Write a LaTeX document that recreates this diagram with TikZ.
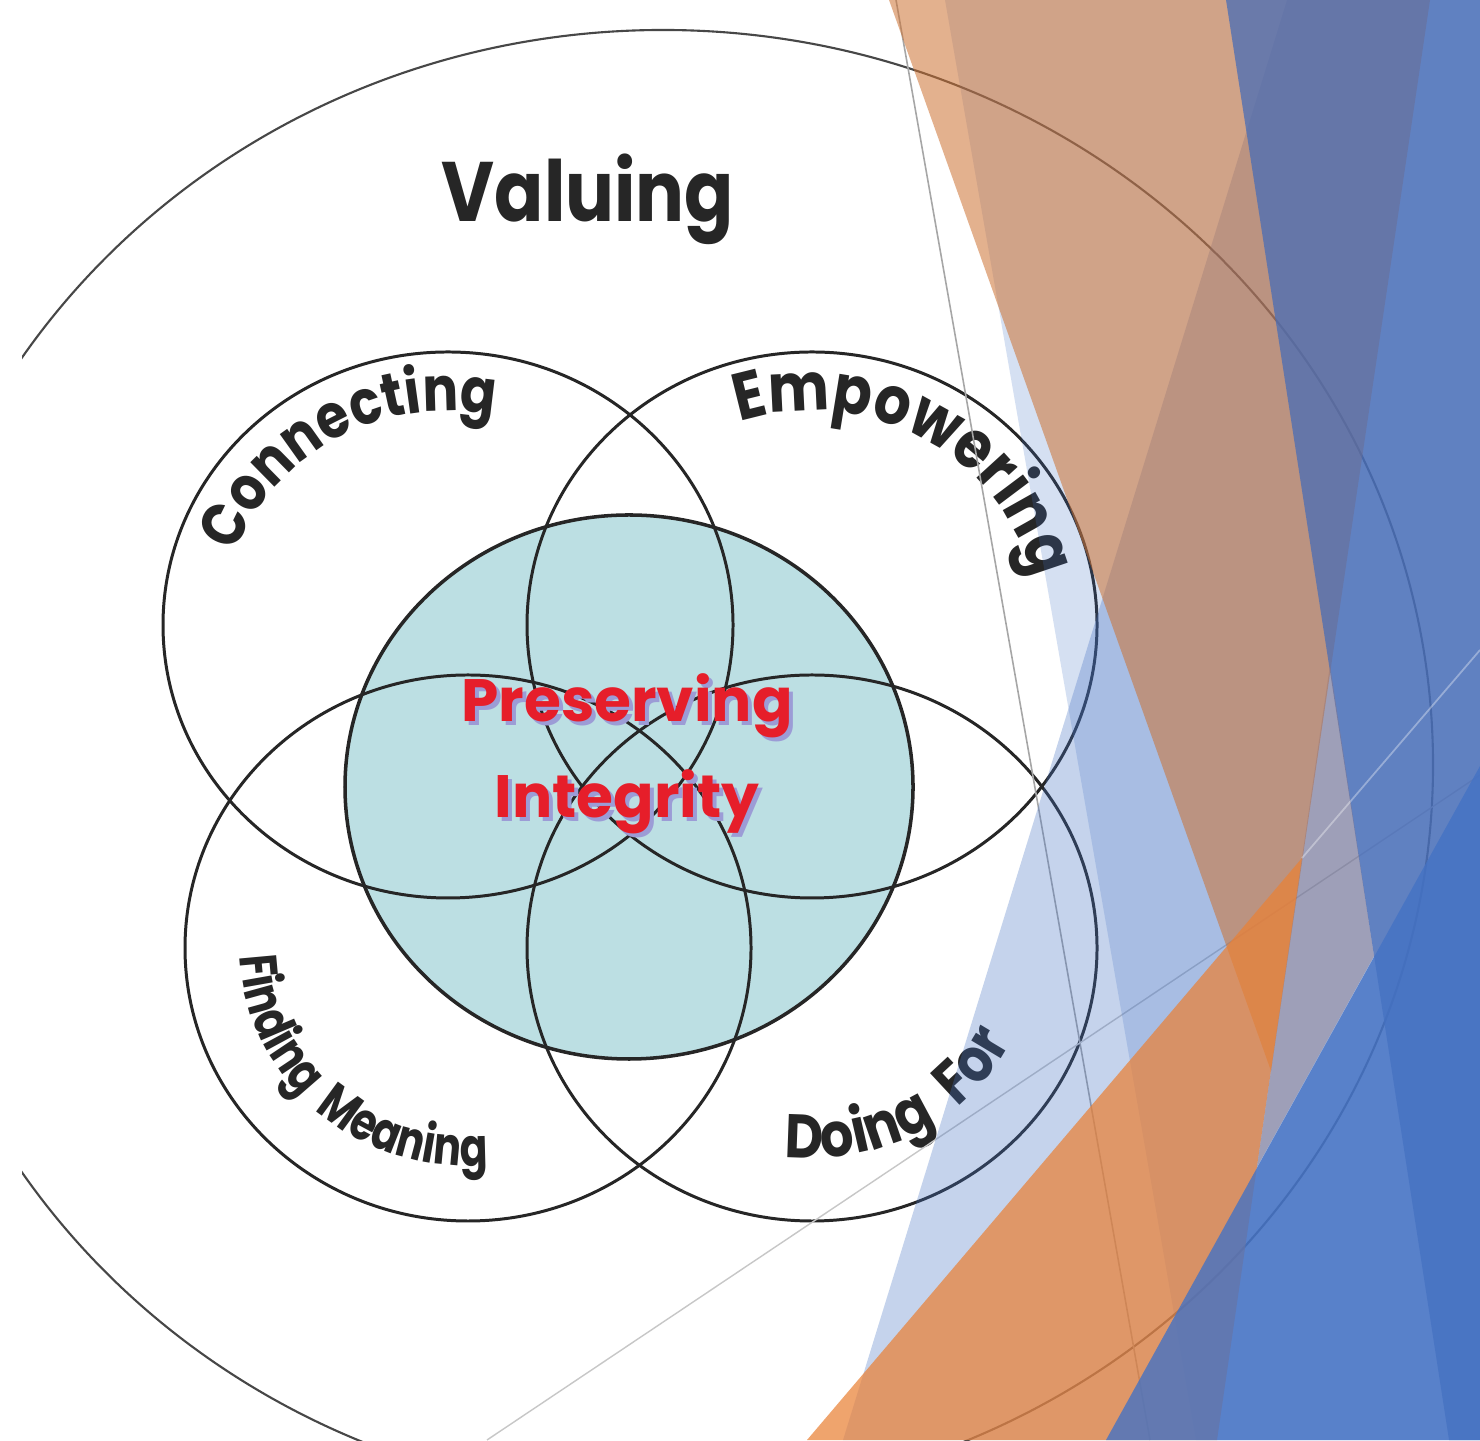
\documentclass[tikz,border=0pt]{standalone}
\usepackage{fontspec}
\setmainfont{Poppins}
\newfontfamily\ringfont[FakeStretch=0.86]{Poppins}
\newfontfamily\tightfont[FakeStretch=0.78]{Poppins}
\usetikzlibrary{decorations.text}
\definecolor{ringline}{HTML}{262626}
\definecolor{coreteal}{HTML}{BCDFE3}
\definecolor{corered}{HTML}{E61E2A}
\definecolor{coreshadow}{HTML}{9C9CD6}
\definecolor{slideblue}{HTML}{4472C4}
\definecolor{slidenavy}{RGB}{73,109,182}
\definecolor{slideorange}{RGB}{204,113,50}
\definecolor{slideamber}{RGB}{234,129,54}
\definecolor{slidemauve}{RGB}{144,115,121}

\begin{document}
\begin{tikzpicture}[x=0.01cm, y=0.01cm,
  ring/.style={draw=ringline, line width=0.85pt},
  outerring/.style={draw=ringline!85, line width=0.6pt},
  ringlabel/.style={decorate, decoration={text along path, text align=center, text={#1}}},
  corelabel/.style={font=\fontsize{17}{17}\selectfont\bfseries, text=corered, anchor=base},
  coreshade/.style={font=\fontsize{17}{17}\selectfont\bfseries, text=coreshadow, anchor=base},
  facet/.style={fill=#1, draw=none}
]
  \useasboundingbox (0,0) rectangle (1480,1440);
  \clip (0,0) rectangle (1480,1440);
  \fill[white] (0,0) rectangle (1480,1440);

  % centre and rings
  \fill[coreteal] (629,653) ellipse [x radius=284, y radius=272];
  \draw[ring, line width=1pt] (629,653) ellipse [x radius=284, y radius=272];
  \draw[ring] (448,815) ellipse [x radius=285, y radius=273];
  \draw[ring] (812,815) ellipse [x radius=285, y radius=273];
  \draw[ring] (468,492) ellipse [x radius=283, y radius=273];
  \draw[ring] (812,492) ellipse [x radius=285, y radius=273];
  \begin{scope}
    \clip (22,0) rectangle (1480,1440);
    \draw[outerring] (663,675) ellipse [x radius=770, y radius=735];
  \end{scope}

  % labels
  \node[font=\ringfont\bfseries\fontsize{24}{24}\selectfont, text=ringline, anchor=base] (valuing) at (588,1218) {Valuing};
  \path[ringlabel={|\ringfont\bfseries\fontsize{17.5}{17.5}\selectfont\color{ringline}|Connecting}]
    (448,815) ++(220:226 and 214) arc [start angle=220, end angle=20, x radius=226, y radius=214];
  \path[ringlabel={|\ringfont\bfseries\fontsize{19}{19}\selectfont\color{ringline}|Empowering}]
    (812,815) ++(160:226 and 214) arc [start angle=160, end angle=-40, x radius=226, y radius=214];
  \path[ringlabel={|\tightfont\bfseries\fontsize{15}{15}\selectfont\color{ringline}|Finding{\hskip5pt}Meaning}]
    (468,492) ++(128:228 and 218) arc [start angle=128, end angle=328, x radius=228, y radius=218];
  \path[ringlabel={|\ringfont\bfseries\fontsize{17.5}{17.5}\selectfont\color{ringline}|Doing{\hskip7pt}For}]
    (812,492) ++(199:222 and 210) arc [start angle=199, end angle=399, x radius=222, y radius=210];

  \node[coreshade] (shadepres) at (631,714) {Preserving};
  \node[coreshade] (shadeint) at (631,618) {Integrity};
  \node[corelabel] (preserving) at (627,718) {Preserving};
  \node[corelabel] (integrity) at (627,622) {Integrity};

  % slide decoration
  \draw[black!35, line width=0.45pt] (896,1440) -- (1150,0);
  \draw[black!22, line width=0.4pt] (487,0) -- (1480,665);
  \fill[facet=slideblue, opacity=0.22] (945,1440) -- (1480,1440) -- (1480,0) -- (1196,0) -- cycle;
  \fill[facet=slideblue, opacity=0.31] (1287,1440) -- (1480,1440) -- (1480,0) -- (843,0) -- cycle;
  \fill[facet=slideorange, opacity=0.55] (889,1440) -- (1430,1440) -- (1271,369) -- cycle;
  \fill[facet=slidenavy, opacity=0.75] (1226,1440) -- (1480,1440) -- (1480,0) -- (1449,0) -- cycle;
  \fill[facet=slideamber, opacity=0.72] (807,0) -- (1302,582) -- (1217,0) -- cycle;
  \fill[facet=slidemauve, opacity=0.4] (1330,775) -- (1374,484) -- (1257,273) -- cycle;
  \draw[white, opacity=0.35, line width=0.5pt] (1302,582) -- (1480,790);
  \fill[facet=slideblue, opacity=0.8] (1480,674) -- (1480,0) -- (1106,0) -- cycle;
\end{tikzpicture}
\end{document}
